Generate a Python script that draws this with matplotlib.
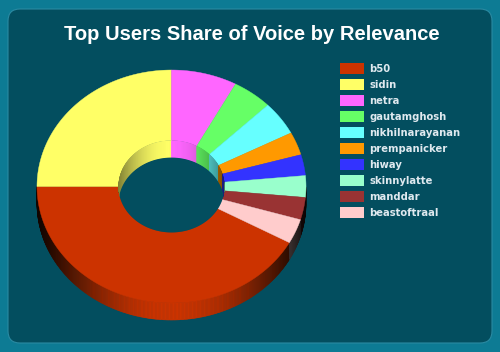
#!/usr/bin/env python3
"""Top Users Share of Voice by Relevance - 3D donut recreation."""
import numpy as np
import matplotlib
matplotlib.use('Agg')
import matplotlib.pyplot as plt
from matplotlib.patches import Polygon, FancyBboxPatch, Rectangle
from matplotlib.colors import to_rgb

# --- data (share of voice, %) ---
users = ['b50', 'sidin', 'netra', 'gautamghosh', 'nikhilnarayanan',
         'prempanicker', 'hiway', 'skinnylatte', 'manddar', 'beastoftraal']
share = [42.0, 25.0, 7.9, 4.8, 4.7, 3.2, 2.9, 3.0, 3.1, 3.4]
colors = ['#cc3300', '#ffff66', '#ff66ff', '#66ff66', '#66ffff',
          '#ff9900', '#3333ff', '#99ffcc', '#993333', '#ffcccc']
title = 'Top Users Share of Voice by Relevance'

BG_OUT = '#0d7b94'
BG_PANEL = '#034e5f'

fig = plt.figure(figsize=(5.0, 3.52), dpi=100, facecolor=BG_OUT)
ax = fig.add_axes([0, 0, 1, 1])
ax.set_xlim(0, 500)
ax.set_ylim(352, 0)
ax.axis('off')

ax.add_patch(FancyBboxPatch((8, 9), 484, 334, boxstyle='round,pad=0,rounding_size=12',
                            facecolor=BG_PANEL, edgecolor='#2a8aa2', linewidth=0.8, zorder=0))

# donut geometry (pixel units)
cx, cy = 171.5, 186.5
r_out, r_in = 134.5, 53.0
k = 0.866      # vertical squash of the tilted disc
depth = 17.0

def pt(r, th, dz=0.0):
    return cx + r * np.sin(th), cy - r * k * np.cos(th) + dz

def shade(c, f):
    return tuple(np.clip(np.array(to_rgb(c)) * f, 0, 1))

fracs = np.array(share) / np.sum(share)
start = np.deg2rad(118.8)   # b50 starts at ~4 o'clock, slices go clockwise
edges = start + np.concatenate([[0], np.cumsum(fracs)]) * 2 * np.pi

# outer side wall (front half only)
for i, c in enumerate(colors):
    t0, t1 = edges[i], edges[i + 1]
    ths = np.linspace(t0, t1, max(int((t1 - t0) / 0.01), 2))
    for a0, a1 in zip(ths[:-1], ths[1:]):
        m = 0.5 * (a0 + a1)
        front = -np.cos(m)
        if front <= 0:
            continue
        f = 0.08 + 0.92 * front ** 2.5
        p = [pt(r_out, a0), pt(r_out, a1), pt(r_out, a1, depth), pt(r_out, a0, depth)]
        ax.add_patch(Polygon(p, closed=True, facecolor=shade(c, f),
                             edgecolor=shade(c, f), linewidth=0.4, zorder=1))

# top surface
for i, c in enumerate(colors):
    ths = np.linspace(edges[i], edges[i + 1], 120)
    outer = [pt(r_out, t) for t in ths]
    inner = [pt(r_in, t) for t in ths[::-1]]
    ax.add_patch(Polygon(outer + inner, closed=True, facecolor=c,
                         edgecolor=c, linewidth=0.3, zorder=2))

# hole: back inner wall, clipped to the inner rim
rim_th = np.linspace(0, 2 * np.pi, 300)
rim = Polygon([pt(r_in, t) for t in rim_th], closed=True,
              facecolor='none', edgecolor='none', transform=ax.transData)
ax.add_patch(rim)
for i, c in enumerate(colors):
    t0, t1 = edges[i], edges[i + 1]
    ths = np.linspace(t0, t1, max(int((t1 - t0) / 0.01), 2))
    for a0, a1 in zip(ths[:-1], ths[1:]):
        m = 0.5 * (a0 + a1)
        back = np.cos(m)
        if back <= -0.05:
            continue
        f = 0.5 + 0.5 * max(back, 0) ** 2
        p = [pt(r_in, a0), pt(r_in, a1), pt(r_in, a1, depth), pt(r_in, a0, depth)]
        w = Polygon(p, closed=True, facecolor=shade(c, f), edgecolor=shade(c, f),
                    linewidth=0.4, zorder=3)
        ax.add_patch(w)
        w.set_clip_path(rim)
hole = Polygon([pt(r_in, t, depth) for t in rim_th], closed=True,
               facecolor=BG_PANEL, edgecolor='none', zorder=4)
ax.add_patch(hole)
hole.set_clip_path(rim)

# title
ax.text(252, 35, title, ha='center', va='center', color='white',
        fontsize=14.5, fontweight='bold', family='Liberation Sans', zorder=5)

# legend
for j, (u, c) in enumerate(zip(users, colors)):
    y = 68.7 + 16 * j
    ax.add_patch(Rectangle((340, y - 5.5), 24, 11, facecolor=c, edgecolor='none', zorder=5))
    ax.text(369, y, u, ha='left', va='center', color='#dfe9ef', fontsize=7.2,
            fontweight='bold', family='DejaVu Sans', zorder=5)

fig.savefig('out.png', dpi=100, facecolor=BG_OUT)
plt.close(fig)
